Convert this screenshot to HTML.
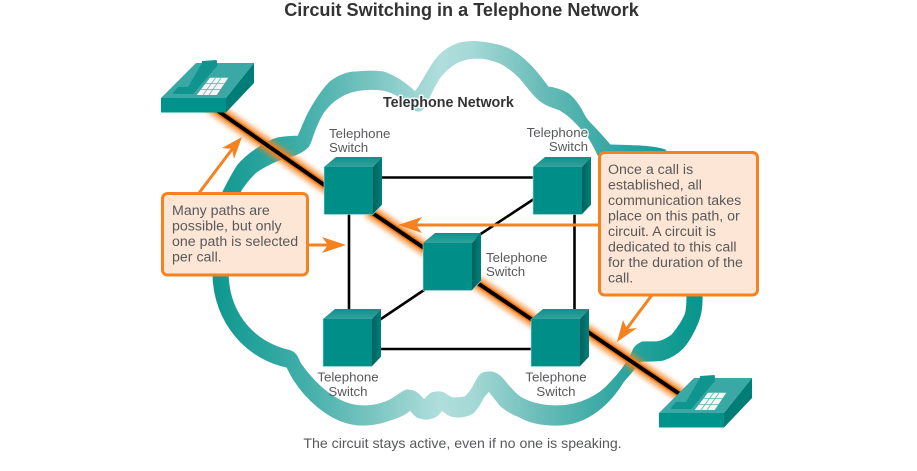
<!DOCTYPE html>
<html>
<head>
<meta charset="utf-8">
<style>
html,body{margin:0;padding:0;background:#fff;width:917px;height:471px;overflow:hidden}
svg{display:block}
text{font-family:"Liberation Sans",Arial,sans-serif}
.l{font-size:13.3px;fill:#58595b}
.h{paint-order:stroke;stroke:#fff;stroke-width:3px;stroke-opacity:.8;stroke-linejoin:round}
.c{font-size:14.2px;fill:#58595b}
</style>
</head>
<body>
<svg width="917" height="471" viewBox="0 0 917 471" xmlns="http://www.w3.org/2000/svg">
<defs>
<linearGradient id="cl" gradientUnits="userSpaceOnUse" x1="212" y1="0" x2="702" y2="0">
<stop offset="0" stop-color="#0c978e"/>
<stop offset=".18" stop-color="#3fada8"/>
<stop offset=".30" stop-color="#6fc0bc"/>
<stop offset=".465" stop-color="#b0dedc"/>
<stop offset=".53" stop-color="#a5d9d6"/>
<stop offset=".67" stop-color="#6abcb8"/>
<stop offset=".81" stop-color="#36a8a3"/>
<stop offset=".95" stop-color="#0f9a91"/>
<stop offset="1" stop-color="#09958d"/>
</linearGradient>
<linearGradient id="ct" x1="0" y1="1" x2="0" y2="0">
<stop offset="0" stop-color="#35a19c"/><stop offset="1" stop-color="#108f89"/>
</linearGradient>
<linearGradient id="cs" x1="0" y1="0" x2="1" y2="0">
<stop offset="0" stop-color="#00605c"/><stop offset="1" stop-color="#00817b"/>
</linearGradient>
<filter id="b" x="-20%" y="-20%" width="140%" height="140%"><feGaussianBlur stdDeviation="2.6"/></filter>
<g id="cube">
<polygon points="0,10 12,0 58,0 49,10" fill="url(#ct)"/>
<rect x="0" y="10" width="49" height="47.500" fill="#008e88"/>
<polygon points="49,10 58,0 58,48 49,57.500" fill="url(#cs)"/>
<polyline points="0,10 0,57.500 49,57.500 58,48" fill="none" stroke="#bfe3e1" stroke-width=".6"/>
</g>
<g id="phone">
<polygon points="161,98 196,63 254,63 226,98" fill="#3aa9a5"/>
<rect x="161" y="98" width="65" height="14.500" fill="#00938c"/>
<polygon points="226,98 254,63 254,83 226,112.500" fill="#007d77"/>
<polygon points="173.300,92.300 178,87 188,87 201.700,63.300 202,61 216.700,60 217.300,66 215,68.300 193.300,94 173,94" fill="#0f958e"/>
<polygon points="196.700,95 210,77.700 228.300,77.700 216.700,95" fill="#f4f6f6"/>
<g stroke="#5fb5b1" stroke-width=".8">
<line x1="201" y1="89.500" x2="221" y2="89.500"/>
<line x1="205.500" y1="83.500" x2="224.500" y2="83.500"/>
<line x1="203" y1="95" x2="215.500" y2="78"/>
<line x1="209" y1="95" x2="221" y2="78"/>
</g>
</g>
</defs>

<rect width="917" height="471" fill="#fff"/>

<path fill="url(#cl)" stroke="url(#cl)" stroke-width="1.2" stroke-linejoin="round" fill-rule="evenodd" d="M213,272 C213,240 214,212 223,192 C228,182 232,174 238,165 C244,158 250,153 258,148 C265,143 271,140 278,138 C285,137 291,136 298,136.500 C302,128 305,119 310,110 C316,100 322,90 330,82 C338,76 347,72 357,72 C365,71 375,71 383,72 C390,74 395,77 400,80 C406,84 411,88 415,92 C422,84 428,69 437,58 C443,51 451,46 460,43 C466,42 473,41 480,42 C490,43 499,45 507,48 C516,52 523,58 530,65 C537,72 543,80 548,87 C555,88 561,90 567,93 C574,98 579,105 583,113 C585,117 587,120 590,123 C597,130 604,138 610,145 C625,146 650,145 665,150 C680,165 702,250 702,298 C702,308 701,315 698,322 C694,332 689,341 683,348 C677,354 670,358 663,360 C657,361 650,361 643,361 C640,361 638,363 637,365 C633,371 628,376 623,382 C612,400 590,425 557,425 C540,425 528,422 520,417 C512,414 505,410 500,405 C496,400 492,395 489,391 C487,393 485,395 483,398 C480,404 477,409 473,413 C468,416 463,417 457,417 C451,417 446,414 442,410 C440,413 438,415 435,417 C432,418 430,419 427,419 C423,419 420,418 417,417 C414,415 412,412 410,410 C405,415 397,418 390,420 C382,423 372,425 363,425 C330,425 300,395 287,367 C250,360 213,325 213,272 Z
M228,272 C228,240 232,208 240,192 C244,185 249,179 255,173 C260,169 266,166 272,163 C280,159 287,157 295,155 C300,153 305,150 308,147 C310,144 311,141 312,138 C315,129 318,121 323,113 C328,106 333,101 340,97 C346,93 353,91 360,90 C367,89 375,89 383,90 C389,91 395,94 400,97 C404,100 407,104 410,107 C413,110 415,111 418,111 C421,111 423,109 425,107 C429,98 432,90 437,82 C441,75 447,69 453,65 C460,60 468,58 477,58 C485,58 493,60 500,63 C508,67 514,72 520,78 C526,85 531,92 537,98 C540,101 543,103 547,105 C551,107 556,108 560,110 C565,113 569,116 573,120 C578,125 583,130 587,135 C591,141 595,148 598,155 C640,170 687,250 687,298 C687,304 687,310 685,315 C682,322 677,329 672,335 C668,338 663,341 657,342 C652,342 648,342 643,342 C640,343 637,345 635,347 C633,349 633,351 632,353 C626,365 618,375 610,383 C600,395 580,406 557,406 C543,406 530,403 520,397 C513,392 508,385 502,378 C498,374 494,372 490,372 C486,372 482,373 480,375 C477,379 475,383 473,387 C471,391 468,394 465,397 C461,398 457,398 453,398 C448,397 445,392 440,392 C436,392 433,392 430,394 C428,396 426,398 424,400 C422,398 420,395 417,393 C414,391 411,390 407,390 C401,392 396,397 390,400 C382,404 373,406 363,406 C335,406 312,380 300,363 C296,352 292,351 287,350 C250,340 228,310 228,272 Z"/>

<g stroke="#000" stroke-width="2.6" fill="none">
<line x1="375" y1="177.500" x2="540" y2="177.500"/>
<line x1="349" y1="210" x2="349" y2="325"/>
<line x1="574.500" y1="210" x2="574.500" y2="325"/>
<line x1="375" y1="349" x2="540" y2="349"/>
<line x1="540" y1="195" x2="470" y2="241"/>
<line x1="375" y1="323" x2="430" y2="286"/>
</g>

<g fill="none" stroke-linecap="butt">
<g stroke="#f58220" stroke-width="13" filter="url(#b)" opacity=".85">
<line x1="208" y1="104" x2="330" y2="189"/>
<line x1="368" y1="210" x2="430" y2="252"/>
<line x1="470" y1="278" x2="540" y2="325"/>
<line x1="582" y1="328" x2="684" y2="397"/>
</g>
<g stroke="#f57c14" stroke-width="7">
<line x1="208" y1="104" x2="330" y2="189"/>
<line x1="368" y1="210" x2="430" y2="252"/>
<line x1="470" y1="278" x2="540" y2="325"/>
<line x1="582" y1="328" x2="684" y2="397"/>
</g>
<g stroke="#000" stroke-width="4">
<line x1="208" y1="104" x2="330" y2="189"/>
<line x1="368" y1="210" x2="430" y2="252"/>
<line x1="470" y1="278" x2="540" y2="325"/>
<line x1="582" y1="328" x2="684" y2="397"/>
</g>
</g>

<use href="#cube" x="324" y="157"/>
<use href="#cube" x="533" y="157"/>
<use href="#cube" x="423" y="233"/>
<use href="#cube" x="323" y="309"/>
<use href="#cube" x="531" y="309"/>

<use href="#phone"/>
<use href="#phone" x="498" y="315"/>

<text x="461.500" y="16" text-anchor="middle" font-size="18.100" font-weight="bold" fill="#333">Circuit Switching in a Telephone Network</text>
<text x="383" y="107" font-size="14.300" font-weight="bold" fill="#333" class="h">Telephone Network</text>

<text class="l" x="329" y="138">Telephone</text>
<text class="l" x="329" y="152">Switch</text>
<text class="l h" x="588" y="137" text-anchor="end">Telephone</text>
<text class="l h" x="588" y="151" text-anchor="end">Switch</text>
<text class="l" x="486" y="262">Telephone</text>
<text class="l" x="486" y="276">Switch</text>
<text class="l" x="348" y="381.500" text-anchor="middle">Telephone</text>
<text class="l" x="348" y="396" text-anchor="middle">Switch</text>
<text class="l" x="556" y="381.500" text-anchor="middle">Telephone</text>
<text class="l" x="556" y="396" text-anchor="middle">Switch</text>

<text x="462.500" y="448" text-anchor="middle" font-size="14.150" fill="#58595b">The circuit stays active, even if no one is speaking.</text>

<g stroke="#f58220" stroke-width="3" fill="none">
<line x1="199" y1="193" x2="233" y2="148"/>
<line x1="308" y1="245" x2="330" y2="245"/>
<line x1="599" y1="225" x2="415" y2="225"/>
<line x1="652" y1="295" x2="625" y2="331"/>
</g>
<g fill="#f58220">
<polygon points="242,137 234,159 232,149 222,148"/>
<polygon points="346,245 322,237 328,245 322,253"/>
<polygon points="398,225 422,217 416,225 422,233"/>
<polygon points="617,342 623,320 627,329 637,328"/>
</g>

<rect x="162.500" y="193.500" width="145" height="81.500" rx="5" fill="#fde6d5" stroke="#f58220" stroke-width="3"/>
<rect x="599.500" y="152.500" width="158" height="142.500" rx="5" fill="#fde6d5" stroke="#f58220" stroke-width="3"/>

<text class="c" x="172" y="215">Many paths are</text>
<text class="c" x="172" y="230.500">possible, but only</text>
<text class="c" x="172" y="246">one path is selected</text>
<text class="c" x="172" y="261.500">per call.</text>

<text class="c" x="608" y="174">Once a call is</text>
<text class="c" x="608" y="189.500">established, all</text>
<text class="c" x="608" y="205">communication takes</text>
<text class="c" x="608" y="220.500">place on this path, or</text>
<text class="c" x="608" y="236">circuit. A circuit is</text>
<text class="c" x="608" y="251.500">dedicated to this call</text>
<text class="c" x="608" y="267">for the duration of the</text>
<text class="c" x="608" y="282.500">call.</text>
</svg>
</body>
</html>
